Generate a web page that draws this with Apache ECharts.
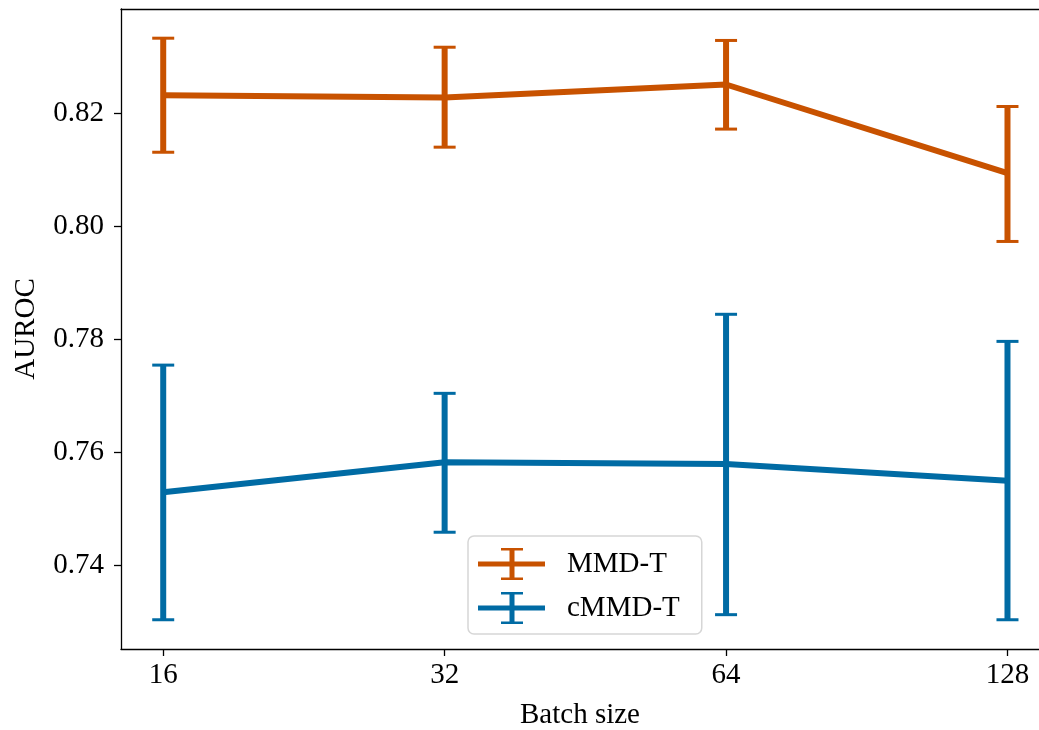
<!DOCTYPE html>
<html>
<head>
<meta charset="utf-8">
<script src="https://cdn.jsdelivr.net/npm/echarts@6/dist/echarts.min.js"></script>
<style>
html,body{margin:0;padding:0;background:#fff;}
#chart{width:1039px;height:730px;}
</style>
</head>
<body>
<div id="chart"></div>
<script>
// Data
const batchSizes = [16, 32, 64, 128];
const mmdMean  = [0.8232, 0.8228, 0.8251, 0.8094];
const mmdLow   = [0.8131, 0.8140, 0.8172, 0.7973];
const mmdHigh  = [0.8333, 0.8317, 0.8329, 0.8212];
const cmmdMean = [0.7529, 0.7582, 0.7579, 0.7549];
const cmmdLow  = [0.7303, 0.7458, 0.7312, 0.7303];
const cmmdHigh = [0.7754, 0.7704, 0.7844, 0.7796];
const yTicks = [0.74, 0.76, 0.78, 0.80, 0.82];

const ORANGE = '#c85200';
const BLUE = '#006ba4';
const FONT = '"Liberation Serif", "DejaVu Serif", serif';
const FS = 29;

const xs = batchSizes.map(b => Math.log2(b));
const X_MIN = 3.85, X_MAX = 7.112;

function lineData(mean) { return xs.map((x, i) => [x, mean[i]]); }
function errData(low, high) { return xs.map((x, i) => [x, low[i], high[i]]); }

function errSeries(name, low, high, color) {
  return {
    name: name,
    type: 'custom',
    data: errData(low, high),
    encode: { x: 0, y: [1, 2] },
    z: 3,
    renderItem: function (params, api) {
      const x = api.value(0);
      const lo = api.coord([x, api.value(1)]);
      const hi = api.coord([x, api.value(2)]);
      const capHalf = 11;
      return {
        type: 'group',
        children: [
          { type: 'line', shape: { x1: lo[0], y1: lo[1], x2: hi[0], y2: hi[1] },
            style: { stroke: color, lineWidth: 6 } },
          { type: 'line', shape: { x1: lo[0] - capHalf, y1: lo[1], x2: lo[0] + capHalf, y2: lo[1] },
            style: { stroke: color, lineWidth: 3 } },
          { type: 'line', shape: { x1: hi[0] - capHalf, y1: hi[1], x2: hi[0] + capHalf, y2: hi[1] },
            style: { stroke: color, lineWidth: 3 } }
        ]
      };
    }
  };
}

function lineSeries(name, mean, color) {
  return {
    name: name,
    type: 'line',
    data: lineData(mean),
    symbol: 'none',
    lineStyle: { color: color, width: 6 },
    itemStyle: { color: color },
    z: 2,
    animation: false
  };
}

// legend icon: horizontal line + error bar with caps (67 x 32 box)
const legendIcon = 'path://M0 13.5L67 13.5L67 18.5L0 18.5Z M31.5 0L36.5 0L36.5 32L31.5 32Z M23 0L45 0L45 2.5L23 2.5Z M23 29.5L45 29.5L45 32L23 32Z';

const chart = echarts.init(document.getElementById('chart'), null, { renderer: 'canvas' });
chart.setOption({
  animation: false,
  backgroundColor: '#fff',
  grid: { left: 121, right: 0, top: 9, bottom: 81, containLabel: false, outerBoundsMode: 'none' },
  xAxis: [{
    type: 'value',
    min: X_MIN, max: X_MAX,
    name: 'Batch size',
    nameLocation: 'middle',
    nameGap: 52,
    nameTextStyle: { fontFamily: FONT, fontSize: FS, color: '#000' },
    axisLine: { lineStyle: { color: '#000', width: 1.3 } },
    axisTick: { show: true, length: 7, lineStyle: { color: '#000', width: 1.3 }, customValues: xs },
    axisLabel: {
      customValues: xs,
      margin: 12,
      fontFamily: FONT, fontSize: FS, color: '#000',
      formatter: v => String(Math.round(Math.pow(2, v)))
    },
    splitLine: { show: false }
  }, {
    type: 'value',
    position: 'top',
    min: X_MIN, max: X_MAX,
    axisLine: { show: true, lineStyle: { color: '#000', width: 1.3 } },
    axisTick: { show: false },
    axisLabel: { show: false },
    splitLine: { show: false }
  }],
  yAxis: {
    type: 'value',
    min: 0.72512, max: 0.83847,
    name: 'AUROC',
    nameLocation: 'middle',
    nameRotate: 90,
    nameGap: 80,
    nameTextStyle: { fontFamily: FONT, fontSize: FS, color: '#000' },
    axisLine: { show: true, lineStyle: { color: '#000', width: 1.3 } },
    axisTick: { show: true, length: 7, lineStyle: { color: '#000', width: 1.3 }, customValues: yTicks },
    axisLabel: {
      customValues: yTicks,
      margin: 17,
      fontFamily: FONT, fontSize: FS, color: '#000',
      formatter: v => v.toFixed(2)
    },
    splitLine: { show: false }
  },
  legend: {
    left: 468, top: 536,
    orient: 'vertical',
    data: [
      { name: 'MMD-T', icon: legendIcon, itemStyle: { color: ORANGE } },
      { name: 'cMMD-T', icon: legendIcon, itemStyle: { color: BLUE } }
    ],
    itemWidth: 67, itemHeight: 32, itemGap: 12,
    padding: [12, 22, 10, 10],
    backgroundColor: '#fff',
    borderColor: '#d6d6d6', borderWidth: 1.5, borderRadius: 6,
    textStyle: { fontFamily: FONT, fontSize: FS, color: '#000', padding: [0, 0, 0, 17] },
    selectedMode: false
  },
  series: [
    lineSeries('MMD-T', mmdMean, ORANGE),
    errSeries('MMD-T', mmdLow, mmdHigh, ORANGE),
    lineSeries('cMMD-T', cmmdMean, BLUE),
    errSeries('cMMD-T', cmmdLow, cmmdHigh, BLUE)
  ]
});
</script>
</body>
</html>
